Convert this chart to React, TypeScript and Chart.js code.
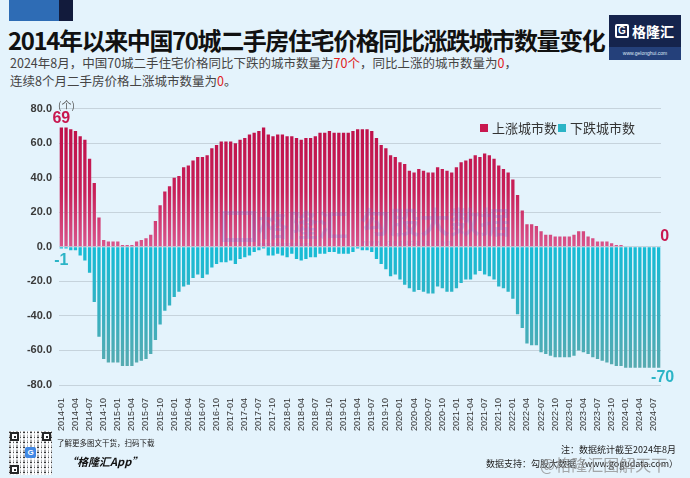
import React, { useEffect, useRef } from "react";
import { Chart, registerables } from "chart.js";

Chart.register(...registerables);

// ---------- data ----------
const startYear = 2014;
const endYear = 2024;
const endMonth = 8;
const monthNames = ["01", "02", "03", "04", "05", "06", "07", "08", "09", "10", "11", "12"];

const categories: string[] = [];
for (let y = startYear; y <= endYear; y++) {
  for (let m = 0; m < 12; m++) {
    if (y === endYear && m >= endMonth) break;
    categories.push(`${y}-${monthNames[m]}`);
  }
}

// 上涨城市数 (2014-01 .. 2024-08)
const upCounts = [
  69, 69, 68, 67, 64, 62, 51, 37, 17, 4, 3, 3, 3, 1, 1, 1, 3, 4, 5, 7, 15, 24, 32, 35, 40, 41, 46, 47, 50, 52, 52,
  53, 57, 59, 61, 61, 61, 60, 62, 63, 65, 66, 67, 69, 65, 64, 65, 65, 64, 64, 63, 62, 63, 63, 64, 66, 66, 67, 66, 66, 66, 66, 67,
  68, 68, 68, 67, 63, 59, 57, 53, 52, 49, 48, 44, 43, 45, 44, 43, 43, 46, 45, 44, 43, 46, 49, 50, 51, 53, 52, 54, 53, 51, 47, 45,
  43, 39, 30, 21, 13, 13, 12, 9, 7, 7, 6, 6, 6, 6, 7, 9, 9, 6, 5, 3, 3, 3, 2, 1, 1, 0, 0, 0, 0, 0, 0, 0, 0,
];

// 下跌城市数
const downCounts = [
  -1, -1, -2, -2, -5, -8, -15, -32, -52, -65, -67, -67, -67, -69, -69, -69, -67, -66, -65, -62, -54, -45, -37, -34, -29, -26, -23, -22, -18, -16, -18,
  -16, -12, -10, -9, -9, -8, -10, -7, -6, -5, -3, -2, -1, -5, -5, -4, -5, -6, -4, -7, -8, -7, -6, -6, -4, -4, -3, -3, -4, -4, -4, -3,
  -1, -2, -2, -3, -7, -10, -13, -17, -16, -19, -22, -24, -26, -25, -26, -27, -27, -23, -24, -26, -26, -24, -21, -19, -19, -16, -14, -16, -17, -19, -23, -24,
  -26, -30, -39, -47, -56, -57, -57, -61, -62, -63, -64, -64, -64, -64, -63, -60, -61, -62, -64, -65, -66, -67, -68, -69, -69, -70, -70, -70, -70, -70, -70, -70, -70,
];

const yMin = -80;
const yMax = 80;
const yStep = 20;
const seriesNames = ["上涨城市数", "下跌城市数"];

// ---------- styles ----------
const BG = "#e4f3fc";
const RED = "#c8174f";
const TEAL = "#2bb4c6";
const CJK = '"Noto Sans CJK SC", "Noto Sans", sans-serif';
const LAT = '"Liberation Sans", Arial, sans-serif';

const overlayPlugin = {
  id: "overlay",
  afterDatasetsDraw(chart: any) {
    const { ctx, chartArea } = chart;
    const up = chart.getDatasetMeta(0).data;
    const dn = chart.getDatasetMeta(1).data;
    ctx.save();

    // watermarks
    ctx.globalAlpha = 0.22;
    ctx.fillStyle = "#6a5fd0";
    ctx.strokeStyle = "#6a5fd0";
    ctx.lineWidth = 4;
    ctx.strokeRect(224, 118, 30, 27);
    ctx.font = `bold 30px ${CJK}`;
    ctx.textBaseline = "middle";
    ctx.textAlign = "left";
    ctx.fillText("格隆汇", 258, 130);
    ctx.font = `6px ${LAT}`;
    ctx.fillText("www.gelonghui.com", 258, 149);
    ctx.font = `bold 30px ${CJK}`;
    ctx.fillText("勾股大数据", 360, 127);
    ctx.font = `7px ${LAT}`;
    ctx.fillText("w w w . g o g u d a t a . c o m", 362, 148);
    ctx.globalAlpha = 1;

    // unit
    ctx.fillStyle = "#555";
    ctx.font = `10px ${CJK}`;
    ctx.textAlign = "left";
    ctx.fillText("(个)", chartArea.left - 1, chartArea.top - 3);

    // end labels
    ctx.font = `bold 16px ${LAT}`;
    ctx.textAlign = "center";
    ctx.fillStyle = RED;
    ctx.fillText(String(upCounts[0]), up[0].x, up[0].y - 9);
    ctx.fillStyle = TEAL;
    ctx.fillText(String(downCounts[0]), dn[0].x, dn[0].y + 12);
    const last = upCounts.length - 1;
    ctx.fillStyle = RED;
    ctx.fillText(String(upCounts[last]), up[last].x + 6, up[last].y - 10);
    ctx.fillStyle = TEAL;
    ctx.fillText(String(downCounts[last]), dn[last].x + 4, dn[last].y + 10);

    // legend
    const ly = 33;
    ctx.font = `13px ${CJK}`;
    ctx.textAlign = "left";
    ctx.fillStyle = RED;
    ctx.fillRect(480, ly - 4, 8, 8);
    ctx.fillStyle = "#333";
    ctx.fillText(seriesNames[0], 492, ly);
    ctx.fillStyle = TEAL;
    ctx.fillRect(558, ly - 4, 8, 8);
    ctx.fillStyle = "#333";
    ctx.fillText(seriesNames[1], 570, ly);
    ctx.restore();
  },
};

function upGradient(ctx: any) {
  const chart = ctx.chart;
  const { chartArea, scales } = chart;
  if (!chartArea) return RED;
  const g = chart.ctx.createLinearGradient(0, scales.y.getPixelForValue(yMax), 0, scales.y.getPixelForValue(0));
  g.addColorStop(0, "#bd0b45");
  g.addColorStop(0.6, "#c82058");
  g.addColorStop(1, "#d9568c");
  return g;
}

function downGradient(ctx: any) {
  const chart = ctx.chart;
  const { chartArea, scales } = chart;
  if (!chartArea) return TEAL;
  const g = chart.ctx.createLinearGradient(0, scales.y.getPixelForValue(0), 0, scales.y.getPixelForValue(yMin));
  g.addColorStop(0, "#15bcd6");
  g.addColorStop(0.5, "#38b0c0");
  g.addColorStop(1, "#62a8aa");
  return g;
}

function QR() {
  const finder = (left: number, top: number) => (
    <div style={{ position: "absolute", left, top, width: 9, height: 9, border: "2px solid #111", boxSizing: "border-box", background: "#fff" }}>
      <div style={{ position: "absolute", left: 1.5, top: 1.5, width: 2, height: 2, background: "#111" }} />
    </div>
  );
  return (
    <div
      style={{
        position: "absolute",
        left: 9,
        top: 431,
        width: 43,
        height: 44,
        background: "repeating-linear-gradient(90deg,#222 0 2px,#fff 2px 4px,#444 4px 5px,#fff 5px 7px), #fff",
        opacity: 0.9,
      }}
    >
      <div style={{ position: "absolute", inset: 0, background: "repeating-linear-gradient(0deg,rgba(255,255,255,0.85) 0 2px,transparent 2px 3px,rgba(255,255,255,0.6) 3px 5px)" }} />
      {finder(1, 1)}
      {finder(33, 1)}
      {finder(1, 34)}
      <div style={{ position: "absolute", left: 16, top: 16, width: 11, height: 11, background: "#2f7de1", borderRadius: 2, color: "#fff", fontSize: 8, fontWeight: 700, textAlign: "center", lineHeight: "11px", fontFamily: LAT }}>G</div>
    </div>
  );
}

export default function App() {
  const canvasRef = useRef<HTMLCanvasElement | null>(null);

  useEffect(() => {
    if (!canvasRef.current) return;
    const chart = new Chart(canvasRef.current, {
      type: "bar",
      data: {
        labels: categories,
        datasets: [
          { label: seriesNames[0], data: upCounts, backgroundColor: upGradient, barPercentage: 0.7, categoryPercentage: 1 },
          { label: seriesNames[1], data: downCounts, backgroundColor: downGradient, barPercentage: 0.7, categoryPercentage: 1 },
        ],
      },
      options: {
        responsive: false,
        animation: false,
        devicePixelRatio: 1,
        layout: { padding: { left: 9, right: 29, top: 13, bottom: 0 } },
        plugins: { legend: { display: false }, tooltip: { enabled: false } },
        scales: {
          x: {
            stacked: true,
            grid: { display: false },
            border: { display: false },
            afterFit: (s: any) => {
              s.height = 70;
            },
            ticks: {
              autoSkip: false,
              minRotation: 90,
              maxRotation: 90,
              padding: 5,
              color: "#333",
              font: { family: LAT, size: 9 },
              callback: (_v: any, i: number) => (i % 3 === 0 ? categories[i] : ""),
            },
          },
          y: {
            stacked: true,
            min: yMin,
            max: yMax,
            afterFit: (s: any) => {
              s.width = 50;
            },
            grid: { color: "#c6d3dc", lineWidth: 1, drawTicks: false },
            border: { display: false },
            ticks: {
              stepSize: yStep,
              padding: 7,
              color: "#3a3a3a",
              font: { family: LAT, size: 11, weight: "bold" },
              callback: (v: any) => Number(v).toFixed(1),
            },
          },
        },
      },
      plugins: [overlayPlugin],
    } as any);
    return () => chart.destroy();
  }, []);

  return (
    <div style={{ position: "absolute", left: 0, top: 0, width: 690, height: 478, background: BG, overflow: "hidden", fontFamily: CJK }}>
      <div style={{ position: "absolute", left: 9, top: 0, width: 50, height: 21, background: "#2e6cb5" }} />
      <div style={{ position: "absolute", left: 59, top: 0, width: 14, height: 21, background: "#121b3c" }} />
      <div style={{ position: "absolute", left: 8, top: 25, fontSize: 24, lineHeight: "30px", fontWeight: 700, color: "#111", whiteSpace: "nowrap", letterSpacing: -1.4 }}>
        2014年以来中国70城二手房住宅价格同比涨跌城市数量变化
      </div>
      <div style={{ position: "absolute", left: 10, top: 54, fontSize: 12.5, lineHeight: "18px", color: "#444", whiteSpace: "nowrap" }}>
        2024年8月，中国70城二手住宅价格同比下跌的城市数量为<span style={{ color: "#e02020" }}>70个</span>，同比上涨的城市数量为<span style={{ color: "#e02020" }}>0</span>，
        <br />
        连续8个月二手房价格上涨城市数量为<span style={{ color: "#e02020" }}>0</span>。
      </div>
      {/* logo */}
      <div style={{ position: "absolute", left: 609, top: 15, width: 72, height: 45, background: "#15244d" }}>
        <div style={{ position: "absolute", left: 6, top: 9, width: 14, height: 14, border: "2px solid #fff", boxSizing: "border-box", borderRadius: 2, color: "#fff", fontSize: 10, fontWeight: 700, lineHeight: "10px", textAlign: "center", fontFamily: LAT }}>G</div>
        <div style={{ position: "absolute", left: 23, top: 6, color: "#fff", fontSize: 14, fontWeight: 700, lineHeight: "20px" }}>格隆汇</div>
        <div style={{ position: "absolute", left: 0, top: 32, width: 72, height: 13, background: "#24407a", color: "#dfe8f5", fontSize: 5, lineHeight: "13px", textAlign: "center", fontFamily: LAT }}>www.gelonghui.com</div>
      </div>
      <canvas ref={canvasRef} width={690} height={360} style={{ position: "absolute", left: 0, top: 95, width: 690, height: 360 }} />
      <QR />
      <div style={{ position: "absolute", left: 57, top: 438, fontSize: 7.5, lineHeight: "10px", color: "#222", whiteSpace: "nowrap" }}>了解更多图文干货，扫码下载</div>
      <div style={{ position: "absolute", left: 66, top: 454, fontSize: 11, lineHeight: "14px", color: "#111", fontWeight: 700, fontStyle: "italic", whiteSpace: "nowrap" }}>“格隆汇App”</div>
      <div style={{ position: "absolute", right: 14, top: 444, fontSize: 9, lineHeight: "12px", color: "#222", whiteSpace: "nowrap" }}>注：数据统计截至2024年8月</div>
      <div style={{ position: "absolute", right: 12, top: 458, fontSize: 9, lineHeight: "12px", color: "#222", whiteSpace: "nowrap" }}>数据支持：勾股大数据（www.gogudata.com）</div>
      <div style={{ position: "absolute", left: 540, top: 454, fontSize: 16, lineHeight: "20px", color: "rgba(140,140,140,0.75)", whiteSpace: "nowrap" }}>@格隆汇图解天下</div>
    </div>
  );
}
